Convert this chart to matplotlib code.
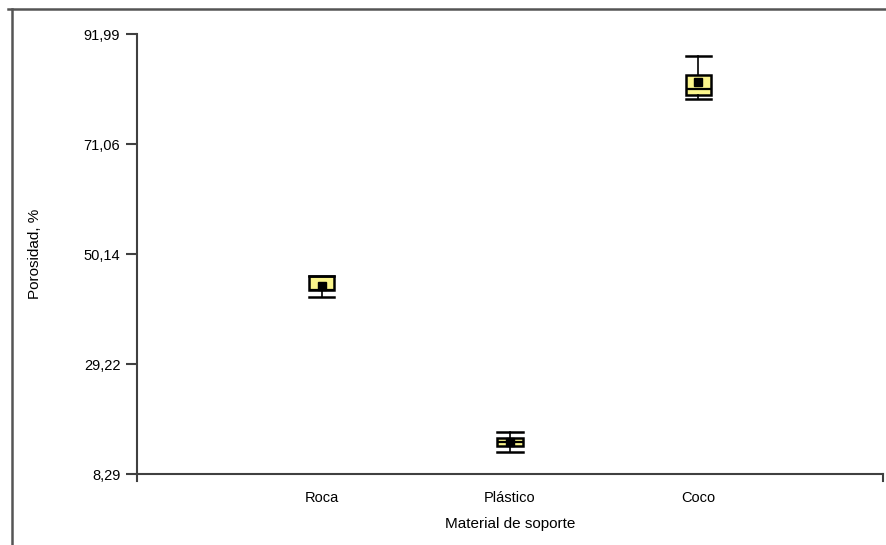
import matplotlib.pyplot as plt
from matplotlib.lines import Line2D

plt.rcParams['font.family'] = ['Liberation Sans', 'DejaVu Sans']

materiales = ['Roca', 'Plástico', 'Coco']
whis_lo = [41.96, 12.47, 79.62]
q1 = [43.29, 13.61, 80.39]
mediana = [43.29, 14.37, 81.53]
q3 = [45.95, 15.13, 84.19]
whis_hi = [45.95, 16.28, 87.80]
media = [44.10, 14.37, 82.86]

y_ticks = [8.29, 29.215, 50.14, 71.065, 91.99]
y_labels = ['8,29', '29,22', '50,14', '71,06', '91,99']

stats = []
for i in range(len(materiales)):
    stats.append(dict(whislo=whis_lo[i], q1=q1[i], med=mediana[i], q3=q3[i],
                      whishi=whis_hi[i], mean=media[i], label=materiales[i]))

fig = plt.figure(figsize=(8.87, 5.45), dpi=100)
ax = fig.add_axes([137/887, 1 - 474/545, 746/887, 440/545])

pos = [1, 2, 3]
ax.bxp(stats, positions=pos, widths=0.135, patch_artist=True, showmeans=True,
       showfliers=False,
       boxprops=dict(facecolor='#fbf58c', edgecolor='black', linewidth=1.8),
       medianprops=dict(color='black', linewidth=1.6),
       whiskerprops=dict(color='black', linewidth=1.2),
       capprops=dict(color='black', linewidth=1.8),
       capwidths=0.135,
       meanprops=dict(marker='s', markerfacecolor='black', markeredgecolor='black',
                      markersize=6))

ax.set_xlim(0.02, 3.98)
ax.set_ylim(8.29, 91.99)

ax.set_yticks(y_ticks)
ax.set_yticklabels(y_labels)
ax.set_xticks(pos)
ax.set_xticklabels(materiales)
ax.tick_params(axis='y', direction='out', length=8, width=1.5, color='#404040',
               labelsize=10.5, pad=4)
ax.tick_params(axis='x', length=0, labelsize=10.5, pad=12)

for s in ['top', 'right']:
    ax.spines[s].set_visible(False)
for s in ['left', 'bottom']:
    ax.spines[s].set_color('#404040')
    ax.spines[s].set_linewidth(1.5)

# little downward ticks at both ends of the x axis
for xe in [0, 1]:
    ax.plot([xe, xe], [0, -0.015], transform=ax.transAxes, color='#404040',
            lw=1.5, clip_on=False)

ax.set_ylabel('Porosidad, %', fontsize=11, labelpad=30)
ax.set_xlabel('Material de soporte', fontsize=11, labelpad=9)

# outer frame of the panel
fig.add_artist(Line2D([8/887, 1], [1 - 9/545, 1 - 9/545], color='#555555', lw=1.8))
fig.add_artist(Line2D([12/887, 12/887], [0, 1 - 9/545], color='#555555', lw=1.8))

fig.savefig('out.png', dpi=100)
